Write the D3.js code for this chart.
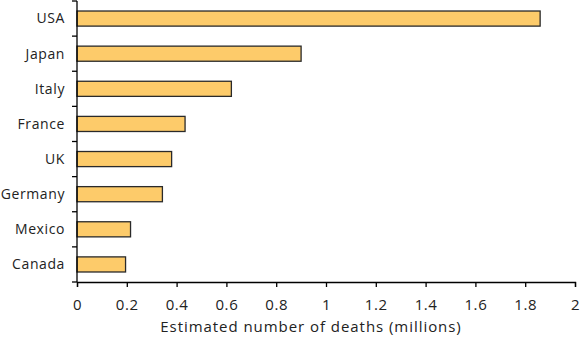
<!DOCTYPE html>
<html><head><meta charset="utf-8">
<script src="https://cdn.jsdelivr.net/npm/d3@7"></script>
<style>
body{margin:0;background:#fff;}
text{font-family:"Open Sans",sans-serif;fill:#222;letter-spacing:0.6px;}
</style></head>
<body><svg id="c" width="580" height="337"></svg>
<script>
const countries = ["USA","Japan","Italy","France","UK","Germany","Mexico","Canada"];
const deaths = [1.86,0.90,0.62,0.434,0.38,0.343,0.215,0.195];
const xTicks = [0,0.2,0.4,0.6,0.8,1,1.2,1.4,1.6,1.8,2];
const xTitle = "Estimated number of deaths (millions)";

const svg = d3.select("#c");
const m = {l:77, r:5, t:1, b:55};
const W = 580, H = 337;
const x = d3.scaleLinear().domain([0,2]).range([m.l, W-m.r]);
const y = d3.scaleBand().domain(countries).range([m.t, H-m.b]).paddingInner(0.57).paddingOuter(0.285);
const yb = d3.scaleBand().domain(countries).range([m.t, H-m.b]);

// bars
svg.selectAll("rect.bar").data(countries).enter().append("rect")
  .attr("x", x(0))
  .attr("y", d=>y(d))
  .attr("width", (d,i)=>x(deaths[i])-x(0))
  .attr("height", y.bandwidth())
  .attr("fill","#FDCB6A")
  .attr("stroke","#2a2a2a")
  .attr("stroke-width",1.3);

// y axis
const gy = svg.append("g").attr("transform",`translate(${x(0)},0)`);
gy.append("line").attr("x1",0).attr("x2",0).attr("y1",m.t).attr("y2",H-m.b).attr("stroke","#000").attr("stroke-width",1.3);
const yTickPos = countries.map(c=>yb(c)).concat([H-m.b]);
gy.selectAll("line.t").data(yTickPos).enter().append("line")
  .attr("x1",-5).attr("x2",0).attr("y1",d=>d).attr("y2",d=>d).attr("stroke","#000").attr("stroke-width",1.3);
gy.selectAll("text").data(countries).enter().append("text")
  .attr("x",-12).attr("y",d=>yb(d)+yb.bandwidth()/2).attr("dy","0.35em")
  .attr("text-anchor","end").attr("font-size",14).text(d=>d);

// x axis
const gx = svg.append("g").attr("transform",`translate(0,${H-m.b})`);
const xAxis = d3.axisBottom(x).tickValues(xTicks).tickFormat(d=>d3.format("~g")(d)).tickSize(5).tickPadding(12);
gx.call(xAxis);
gx.select(".domain").attr("stroke","#000").attr("stroke-width",1.3);
gx.selectAll(".tick line").attr("stroke","#000").attr("stroke-width",1.3);
gx.selectAll(".tick text").attr("font-size",15).attr("font-family","Open Sans").style("fill","#222");

svg.append("text").attr("x",311).attr("y",332).attr("text-anchor","middle")
  .attr("font-size",15).style("letter-spacing","0.95px").text(xTitle);
</script></body></html>
